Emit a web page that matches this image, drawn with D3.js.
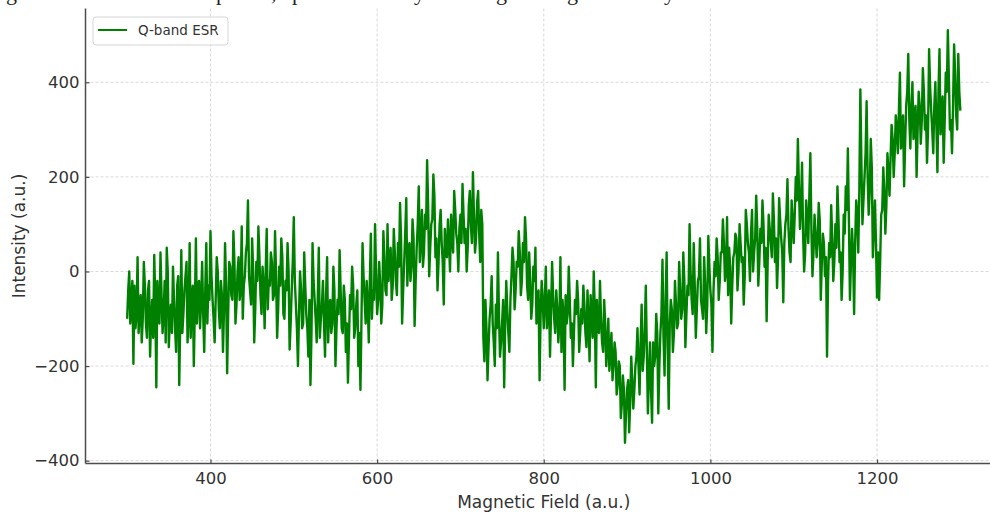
<!DOCTYPE html>
<html>
<head>
<meta charset="utf-8">
<script src="https://cdnjs.cloudflare.com/ajax/libs/d3/7.8.5/d3.min.js"></script>
<style>
    body { margin: 0; background: white; }
    svg { display: block; font-family: "DejaVu Sans", sans-serif; }
</style>
</head>
<body>
<div id="chart"></div>
<script>

// field runs 300 .. 1300, evenly sampled (one value every 1.25 a.u.)
var fieldStart = 300, fieldEnd = 1300;

// intensity, one row per 100 a.u.
var intensity = [].concat(
    [-100],
    [-40, 0, -110, -60, -20, -195, -30, -120, -90, 30, -130, -80, -50, -150, -100, 20, -30, -110, -140, -40,
     -20, -180, -100, -60, -140, 35, -60, -245, -20, -90, -110, 40, -50, -130, -90, -20, -150, 50, 0, -160,
     -100, -70, -130, 10, -60, -120, -170, -30, -10, -240, -100, 45, -130, -90, -40, -10, 20, -150, -90, 60,
     -140, -60, -30, -200, -80, 70, -110, -40, -20, -120, -60, 20, -90, -170, -40, 60, -110, -30, -60, 85],
    [-10, -60, -100, -150, -60, 30, 0, -80, -120, -20, -50, -170, -80, 60, -30, -215, -90, 20, 10, -50,
     -60, 85, 20, -110, -70, 0, 30, -60, -40, 95, -100, -30, -10, 40, 60, 150, -10, -40, -70, 70,
     0, -150, -80, 20, -20, 95, 30, -50, -90, 10, -30, -120, 0, 90, -80, -20, -30, 40, 20, -60,
     -50, 85, -10, -140, -80, 10, -30, 70, 30, -90, -100, -20, -40, 60, 0, -165, -110, -40, 20, 115],
    [-20, -70, -120, -200, -90, 0, -40, -120, -110, 40, -30, -90, -120, -180, -60, -240, -130, 60, -20, -60,
     -100, -150, -60, 50, -140, -100, -70, -20, -110, -180, -50, 30, -150, -80, -60, -130, -110, 10, -40, -200,
     -120, -60, -90, 45, -40, -120, -130, -30, -60, -170, -110, -235, -140, -50, -80, 10, -30, -140, -120, -70,
     -40, -200, -130, -250, -100, 60, -10, -60, -110, -20, -70, -150, -20, 80, -100, -40, -60, 100, 0, -90],
    [-60, 20, -30, -110, -70, 85, 30, -40, -50, 100, -20, 30, 50, -60, -30, 90, 40, -20, -50, 60,
     10, 145, 70, -110, -40, 20, 80, 155, -30, 40, 60, -20, 10, 110, 70, -115, -20, 50, 100, 180,
     20, 70, 130, 10, 40, 120, 90, 235, 140, -10, 50, 100, 110, 205, 160, 30, 70, -40, 20, 100,
     130, 60, 20, -70, 90, 40, 30, 110, 60, 0, 120, 70, 40, 170, 130, 80, 60, 0, 90, 120],
    [60, 185, 120, 60, 90, 0, 50, 140, 170, 100, 60, 210, 120, 40, 70, 145, 170, 80, 20, 130,
     100, -140, -190, -60, -120, -230, -160, -100, -70, -10, -110, -150, -200, -70, -120, 40, -90, -180, -150, -110,
     -60, -245, -110, -20, -80, -130, -170, -60, -10, 50, 20, -80, -40, 20, 10, 85, 40, -50, -20, 60,
     20, 115, 70, -30, -60, 40, -20, -100, -70, 10, -20, 50, -110, -60, -40, -230, -90, -20, -60, -120],
    [-60, 10, -120, -80, -40, -180, -90, 20, -50, -100, -130, -40, -80, -150, -110, 30, -170, -60, -90, -250,
     -50, -110, -90, 10, -60, -140, -110, -200, -130, -60, -90, -20, -60, -170, -130, -80, -110, -30, -70, -130,
     -160, -40, -110, -190, -50, -90, -140, 0, -80, -245, -60, -120, -130, -20, -100, -150, -170, -60, -110, -200,
     -160, -100, -210, -170, -130, -230, -200, -150, -170, -260, -240, -190, -200, -310, -280, -220, -250, -362, -300, -250],
    [-230, -340, -280, -180, -230, -290, -250, -200, -180, -120, -200, -260, -150, -70, -210, -180, -120, -30, -170, -300,
     -220, -150, -250, -320, -150, -200, -180, -90, -130, -300, -200, -130, -90, 25, -140, -220, -60, 40, -160, -290,
     -110, -60, -80, -170, -130, -20, -70, -120, -110, 20, -40, -100, -80, 40, -20, -160, -90, -30, -50, 100,
     0, -60, -90, 60, -30, -140, -80, -20, -10, 70, -60, -80, -100, 30, -30, -130, -70, 75, 10, -40],
    [-70, -170, -40, 20, -10, 70, 30, -60, -20, 40, 40, 110, 60, -20, 0, 115, -50, 50, 10, -110,
     -30, 30, 40, 80, 70, -40, 0, 100, 60, 20, 30, -70, -10, 130, 100, 60, 40, -20, 80, 130,
     0, 40, 70, 160, 90, -30, 20, 90, 60, 150, 100, 10, 50, -105, 20, 120, 90, 60, 30, 165,
     110, 20, 70, -35, 30, 155, 110, 70, 40, -65, 60, 100, 120, 195, 90, 40, 20, 150, 110, 60],
    [120, 200, 150, 280, 180, 90, 140, 230, 80, 0, 40, 150, 110, 60, 160, 250, 90, -10, 40, 120,
     80, 30, 60, 145, 110, -60, 20, 80, 60, -10, 30, -180, -20, 60, 30, 140, 70, -20, 20, 100,
     50, 180, 110, 20, 40, -60, 0, 120, 80, 180, 130, 260, 110, -60, 20, 90, 40, -90, 60, 150,
     120, 40, 170, 385, 230, 100, 150, 200, 250, 360, 200, 120, 170, 280, 220, 30, 90, 150, 60, -55],
    [40, -60, 20, 120, 130, 220, 170, 80, 140, 250, 210, 160, 240, 310, 280, 200, 250, 330, 300, 250,
     340, 420, 260, 300, 330, 180, 270, 350, 380, 460, 320, 260, 350, 400, 280, 330, 350, 200, 300, 380,
     350, 270, 320, 430, 380, 300, 330, 230, 300, 470, 390, 340, 300, 250, 350, 400, 310, 210, 380, 470,
     290, 320, 370, 230, 320, 420, 380, 510, 410, 300, 320, 250, 350, 480, 420, 330, 300, 460, 380, 340]
);

var xTicks = [400, 600, 800, 1000, 1200];
var yTicks = [-400, -200, 0, 200, 400];
var seriesName = 'Q-band ESR';
var xLabel = 'Magnetic Field (a.u.)';
var yLabel = 'Intensity (a.u.)';

// bits of the page caption above the figure, only the descenders show
var captionBits = [['g', 6], ['p', 216], [',', 271], ['p', 292], ['y', 414], ['g', 496], ['g', 567], ['y', 664]];

var width = 990, height = 512;
var green = '#008000';

var data = intensity.map(function (d, i) {
    return { x: fieldStart + i * (fieldEnd - fieldStart) / (intensity.length - 1), y: d };
});

var x = d3.scaleLinear().domain([250, 1350]).range([85.5, 1002]);
var y = d3.scaleLinear().domain([-406, 556]).range([463.5, 8.5]);

var svg = d3.select('#chart').append('svg')
    .attr('width', width)
    .attr('height', height);

svg.append('g')
    .selectAll('text')
    .data(captionBits)
    .enter().append('text')
    .attr('x', function (d) { return d[1]; })
    .attr('y', 0)
    .style('font-family', '"Liberation Serif", serif')
    .style('font-size', '22px')
    .attr('fill', '#222')
    .text(function (d) { return d[0]; });

// grid
var grid = svg.append('g')
    .attr('stroke', '#cfcfcf')
    .attr('stroke-width', 0.8)
    .attr('stroke-dasharray', '3,2');

grid.selectAll('.vgrid')
    .data(xTicks)
    .enter().append('line')
    .attr('x1', function (d) { return x(d); })
    .attr('x2', function (d) { return x(d); })
    .attr('y1', y.range()[1])
    .attr('y2', y.range()[0]);

grid.selectAll('.hgrid')
    .data(yTicks)
    .enter().append('line')
    .attr('y1', function (d) { return y(d); })
    .attr('y2', function (d) { return y(d); })
    .attr('x1', x.range()[0])
    .attr('x2', width);

// the trace
var line = d3.line()
    .x(function (d) { return x(d.x); })
    .y(function (d) { return y(d.y); });

svg.append('path')
    .datum(data)
    .attr('d', line)
    .attr('fill', 'none')
    .attr('stroke', green)
    .attr('stroke-width', 2.4)
    .attr('stroke-linejoin', 'round');

// axes
var xAxis = svg.append('g')
    .attr('transform', 'translate(0,' + y.range()[0] + ')')
    .call(d3.axisBottom(x).tickValues(xTicks).tickSize(-4).tickPadding(9).tickFormat(d3.format('d')));

var yAxis = svg.append('g')
    .attr('transform', 'translate(' + x.range()[0] + ',0)')
    .call(d3.axisLeft(y).tickValues(yTicks).tickSize(-4).tickPadding(6)
        .tickFormat(function (d) { return d < 0 ? '\u2212' + Math.abs(d) : d; }));

[xAxis, yAxis].forEach(function (a) {
    a.select('.domain').attr('stroke', '#4d4d4d').attr('stroke-width', 1.5);
    a.selectAll('.tick line').attr('stroke', '#4d4d4d').attr('stroke-width', 1.2);
    a.selectAll('.tick text')
        .attr('fill', '#333')
        .style('font-family', '"DejaVu Sans", sans-serif')
        .style('font-size', '16.5px');
});

// spines: left and bottom only, no end caps
xAxis.select('.domain').attr('d', 'M' + x.range()[0] + ',0H' + width);
yAxis.select('.domain').attr('d', 'M0,' + y.range()[1] + 'V' + y.range()[0]);

svg.append('text')
    .attr('x', (x.range()[0] + x.range()[1]) / 2)
    .attr('y', 508)
    .attr('text-anchor', 'middle')
    .attr('fill', '#333')
    .style('font-size', '17px')
    .text(xLabel);

svg.append('text')
    .attr('transform', 'translate(25,' + (y.range()[0] + y.range()[1]) / 2 + ') rotate(-90)')
    .attr('text-anchor', 'middle')
    .attr('fill', '#333')
    .style('font-size', '17px')
    .text(yLabel);

// legend
var legend = svg.append('g').attr('transform', 'translate(93,17)');

legend.append('rect')
    .attr('width', 135)
    .attr('height', 28)
    .attr('rx', 3)
    .attr('fill', 'white')
    .attr('fill-opacity', 0.8)
    .attr('stroke', '#d6d6d6');

legend.append('line')
    .attr('x1', 5).attr('x2', 34)
    .attr('y1', 13).attr('y2', 13)
    .attr('stroke', green)
    .attr('stroke-width', 2);

legend.append('text')
    .attr('x', 45)
    .attr('y', 18)
    .attr('fill', '#333')
    .style('font-size', '13.5px')
    .text(seriesName);

</script>
</body>
</html>
